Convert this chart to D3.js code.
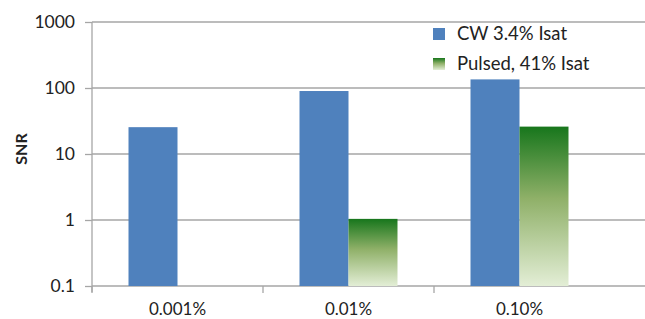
<!DOCTYPE html>
<html>
<head>
<meta charset="utf-8">
<title>SNR</title>
<script src="https://cdn.jsdelivr.net/npm/d3@7/dist/d3.min.js"></script>
<style>
body { margin: 0; background: #fff; }
svg text { font-family: Lato, "Open Sans", sans-serif; fill: #222; }
.grid line { stroke: #a6a6a6; stroke-width: 1.3; }
.axis path, .axis line { stroke: #a6a6a6; stroke-width: 1.3; }
</style>
</head>
<body>
<div id="chart"></div>
<script>
// data
var categories = ["0.001%", "0.01%", "0.10%"];
var seriesNames = ["CW 3.4% Isat", "Pulsed, 41% Isat"];
var cwValues = [25.5, 90, 135];
var pulsedValues = [null, 1.04, 26];
var yTicks = [0.1, 1, 10, 100, 1000];

var W = 645, H = 319;
var plotLeft = 92, plotTop = 22, plotBottom = 286, plotRight = 605, gridRight = 645;

var svg = d3.select("#chart").append("svg")
  .attr("width", W).attr("height", H);

var defs = svg.append("defs");
var grad = defs.append("linearGradient").attr("id", "green")
  .attr("x1", 0).attr("y1", 0).attr("x2", 0).attr("y2", 1);
grad.append("stop").attr("offset", "0%").attr("stop-color", "#17761c");
grad.append("stop").attr("offset", "45%").attr("stop-color", "#8fb068");
grad.append("stop").attr("offset", "100%").attr("stop-color", "#e3eed6");

var x = d3.scaleBand().domain(categories).range([plotLeft, plotRight]).paddingInner(0).paddingOuter(0);
var x1 = d3.scaleBand().domain(seriesNames).range([0, x.bandwidth()]).paddingInner(0).paddingOuter(0.745);
var y = d3.scaleLog().domain([0.1, 1000]).range([plotBottom, plotTop]);

// gridlines
svg.append("g").attr("class", "grid")
  .selectAll("line").data(yTicks).enter().append("line")
  .attr("x1", plotLeft).attr("x2", gridRight)
  .attr("y1", function(d) { return y(d); })
  .attr("y2", function(d) { return y(d); });

// y axis
var yAxis = svg.append("g").attr("class", "axis")
  .attr("transform", "translate(" + plotLeft + ",0)")
  .call(d3.axisLeft(y).tickValues(yTicks).tickSize(7).tickPadding(10)
    .tickFormat(function(d) { return String(d); }));
yAxis.select(".domain").attr("d", "M0," + plotTop + "V" + (plotBottom + 6));
yAxis.selectAll("text").style("font-size", "17.5px").style("fill", "#222");

// x axis
var xAxis = svg.append("g").attr("class", "axis")
  .attr("transform", "translate(0," + plotBottom + ")")
  .call(d3.axisBottom(x).tickSize(0).tickPadding(17));
xAxis.select(".domain").remove();
xAxis.selectAll("text").style("font-size", "17px").style("fill", "#222");
xAxis.selectAll(".xtick").data(categories).enter().append("line")
  .attr("class", "xtick")
  .attr("x1", function(d) { return x(d); }).attr("x2", function(d) { return x(d); })
  .attr("y1", 0).attr("y2", 7);

// bars
var groups = svg.append("g").selectAll("g").data(categories).enter().append("g")
  .attr("transform", function(d) { return "translate(" + x(d) + ",0)"; });

groups.append("rect")
  .attr("x", x1(seriesNames[0]))
  .attr("width", x1.bandwidth())
  .attr("y", function(d, i) { return y(cwValues[i]); })
  .attr("height", function(d, i) { return plotBottom - y(cwValues[i]); })
  .attr("fill", "#4f81bd");

groups.filter(function(d, i) { return pulsedValues[i] != null; })
  .append("rect")
  .attr("x", x1(seriesNames[1]))
  .attr("width", x1.bandwidth())
  .attr("y", function(d) { return y(pulsedValues[categories.indexOf(d)]); })
  .attr("height", function(d) { return plotBottom - y(pulsedValues[categories.indexOf(d)]); })
  .attr("fill", "url(#green)");

// y label
svg.append("text")
  .attr("transform", "translate(27,149) rotate(-90)")
  .attr("text-anchor", "middle")
  .style("font-size", "16px").style("font-weight", "bold")
  .text("SNR");

// legend
var legend = svg.append("g").selectAll("g").data(seriesNames).enter().append("g")
  .attr("transform", function(d, i) { return "translate(433," + (28 + i * 30) + ")"; });
legend.append("rect").attr("width", 12).attr("height", 12)
  .attr("fill", function(d, i) { return i === 0 ? "#4f81bd" : "url(#green)"; });
legend.append("text").attr("x", 24).attr("y", 6).attr("dy", "0.35em")
  .style("font-size", "18.5px")
  .text(function(d) { return d; });
</script>
</body>
</html>
